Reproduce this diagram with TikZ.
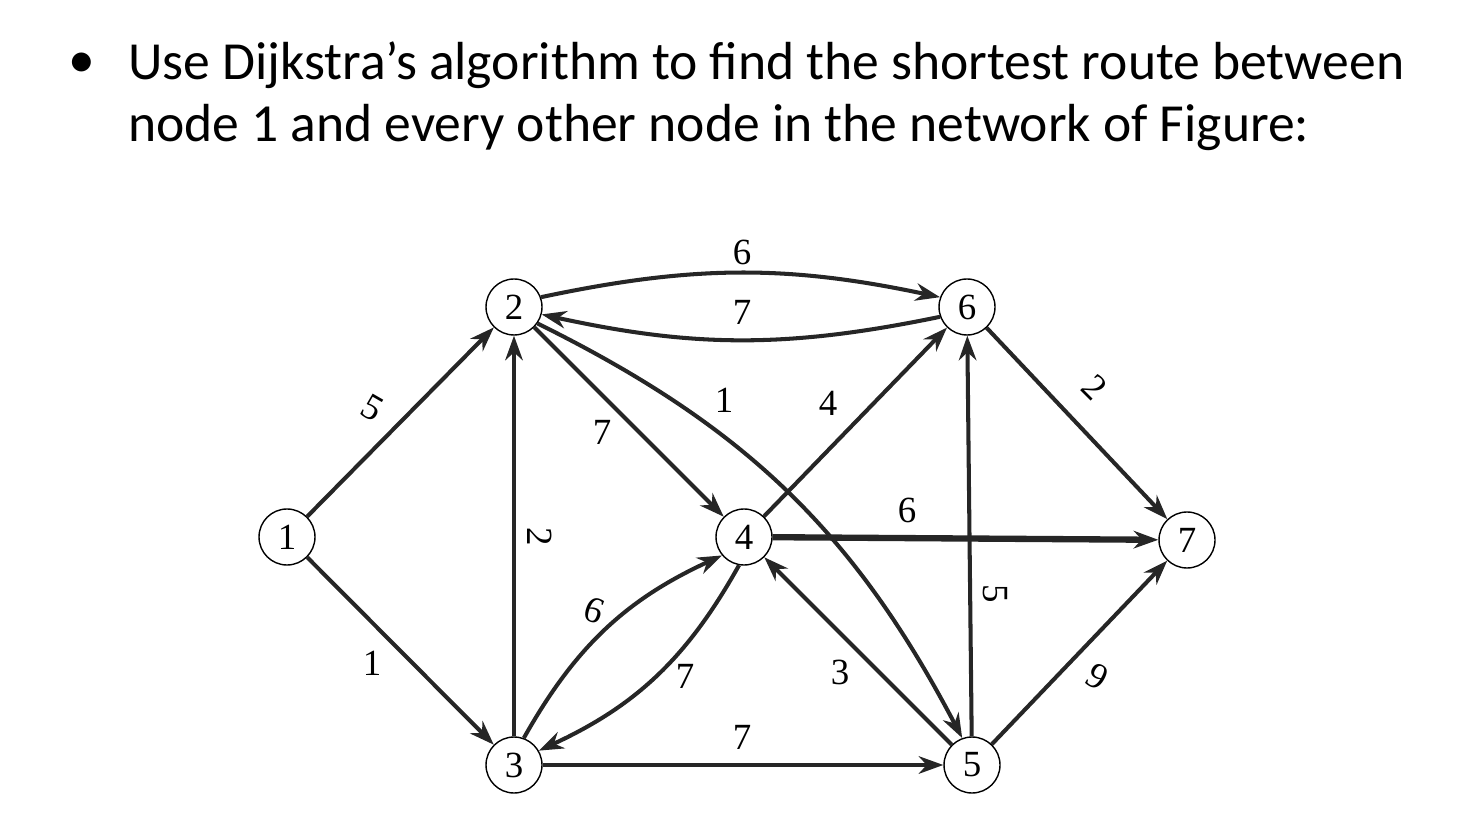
\documentclass[tikz,border=0pt]{standalone}
\usepackage{fontspec}
\setmainfont{Liberation Serif}
\newfontfamily\titlefont{Carlito}
\usetikzlibrary{arrows.meta}
\begin{document}
\begin{tikzpicture}[x=0.02cm,y=-0.02cm,
  vx/.style={circle,draw,line width=0.8pt,minimum size=1.12cm,inner sep=0pt,font=\fontsize{21}{21}\selectfont},
  ed/.style={line width=2.3pt,color=black!85,-{Stealth[length=14pt,width=10pt]}},
  lb/.style={font=\fontsize{21}{21}\selectfont},
  tt/.style={anchor=west,font=\titlefont\fontsize{30.5}{30.5}\selectfont}]
\useasboundingbox (0,0) rectangle (1476,830);
\node[tt] (t0) at (62,65) {•};
\node[tt] (t1) at (122,65) {Use Dijkstra’s algorithm to find the shortest route between};
\node[tt] (t2) at (122,128) {node 1 and every other node in the network of Figure:};
\node[vx] (n1) at (287,537) {1};
\node[vx] (n2) at (514,307) {2};
\node[vx] (n3) at (514,765) {3};
\node[vx] (n4) at (744,537) {4};
\node[vx] (n5) at (972,765) {5};
\node[vx] (n6) at (967,307) {6};
\node[vx] (n7) at (1187,540) {7};
\draw[ed] (n1) -- (n2);
\draw[ed] (n1) -- (n3);
\draw[ed] (n2.20) to[bend left=12] (n6.160);
\draw[ed] (n6.200) to[bend left=12] (n2.-15);
\draw[ed] (n3) -- (n2);
\draw[ed] (n2) -- (n4);
\draw[ed] (n2.-35) to[bend left=18] (n5.110);
\draw[ed] (n4) -- (n6);
\draw[ed,line width=3.6pt] (n4) -- (n7);
\draw[ed] (n3.70) to[bend left=18] (n4.220);
\draw[ed] (n4.260) to[bend left=18] (n3.30);
\draw[ed] (n5) -- (n4);
\draw[ed] (n3) -- (n5);
\draw[ed] (n5) -- (n6);
\draw[ed] (n6) -- (n7);
\draw[ed] (n5) -- (n7);
\node[lb,rotate=-30] (l12) at (372,408) {5};
\node[lb] (l13) at (372,663) {1};
\node[lb] (l26) at (742,252) {6};
\node[lb] (l62) at (742,312) {7};
\node[lb,rotate=-90] (l32) at (540,537) {2};
\node[lb] (l24) at (602,432) {7};
\node[lb] (l25) at (724,400) {1};
\node[lb] (l46) at (828,403) {4};
\node[lb] (l47) at (907,510) {6};
\node[lb,rotate=-20] (l34) at (594,610) {6};
\node[lb] (l43) at (685,676) {7};
\node[lb] (l54) at (840,672) {3};
\node[lb] (l35) at (742,737) {7};
\node[lb,rotate=-90] (l56) at (995,594) {5};
\node[lb,rotate=-45] (l67) at (1095,387) {2};
\node[lb,rotate=-30] (l57) at (1097,677) {9};
\end{tikzpicture}
\end{document}
